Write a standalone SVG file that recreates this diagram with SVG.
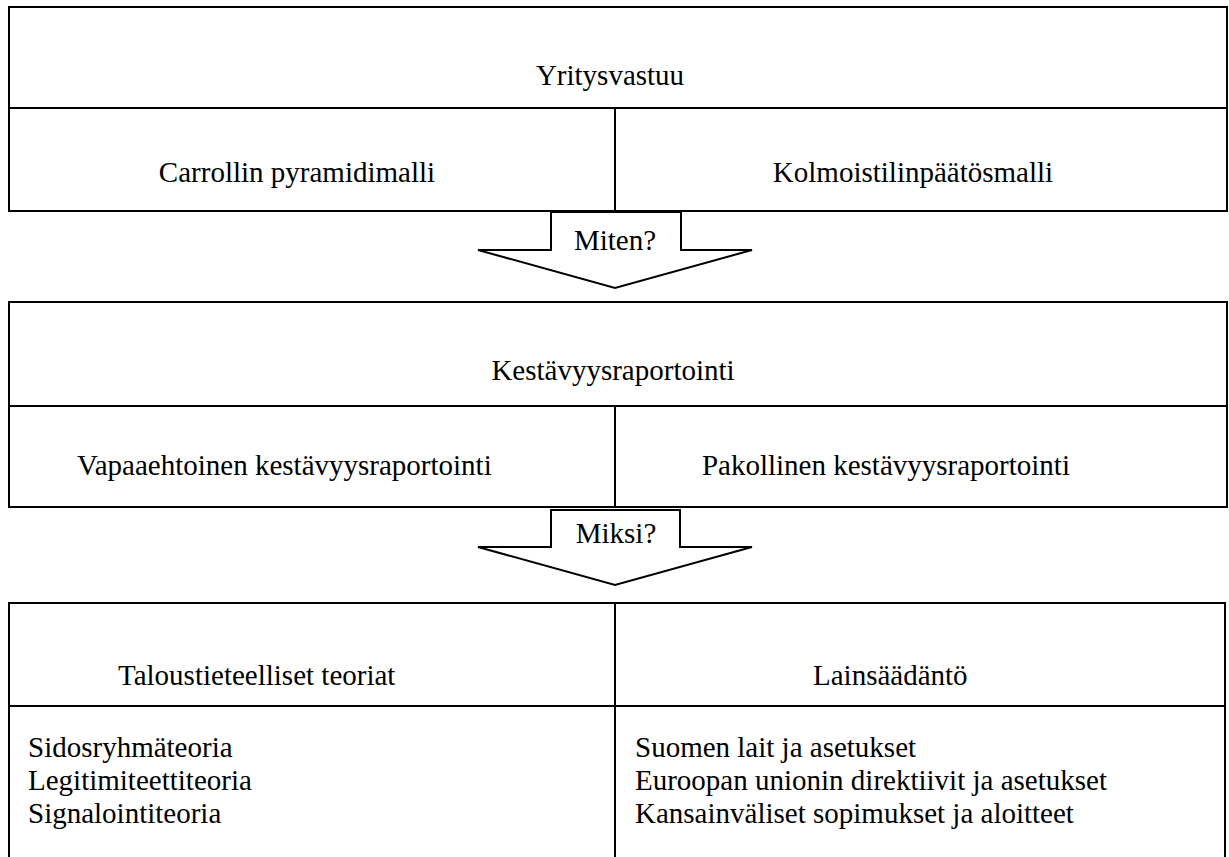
<svg xmlns="http://www.w3.org/2000/svg" width="1229" height="857" viewBox="0 0 1229 857">
<style>
  .box { fill: #fff; stroke: #000; stroke-width: 2; }
  .ln { fill: none; stroke: #000; stroke-width: 2; }
  .arr { fill: #fff; stroke: #000; stroke-width: 2; stroke-linejoin: miter; }
  text { font-family: "Liberation Serif", "Times New Roman", serif; font-size: 29px; fill: #000; }
  .c { text-anchor: middle; }
  .e { text-anchor: end; }
</style>
<rect width="1229" height="857" fill="#fff"/>

<g id="yritysvastuu">
  <rect class="box" x="9" y="7" width="1218" height="204"/>
  <line class="ln" x1="9" y1="108" x2="1227" y2="108"/>
  <line class="ln" x1="615" y1="108" x2="615" y2="211"/>
  <text class="c" x="610" y="85">Yritysvastuu</text>
  <text class="c" x="297" y="182">Carrollin pyramidimalli</text>
  <text class="c" x="913" y="182">Kolmoistilinpäätösmalli</text>
</g>

<g id="kestavyysraportointi">
  <rect class="box" x="9" y="302" width="1218" height="205"/>
  <line class="ln" x1="9" y1="406" x2="1227" y2="406"/>
  <line class="ln" x1="615" y1="406" x2="615" y2="507"/>
  <text class="c" x="613" y="380">Kestävyysraportointi</text>
  <text x="77" y="475">Vapaaehtoinen kestävyysraportointi</text>
  <text class="e" x="1070" y="475">Pakollinen kestävyysraportointi</text>
</g>

<g id="perusteet">
  <path class="ln" d="M9,857 V603 H1225 V857"/>
  <line class="ln" x1="9" y1="706" x2="1225" y2="706"/>
  <line class="ln" x1="615" y1="603" x2="615" y2="857"/>
  <text x="118" y="685">Taloustieteelliset teoriat</text>
  <text x="813" y="685">Lainsäädäntö</text>
  <text x="28" y="757">Sidosryhmäteoria</text>
  <text x="28" y="790">Legitimiteettiteoria</text>
  <text x="28" y="823">Signalointiteoria</text>
  <text x="635" y="757">Suomen lait ja asetukset</text>
  <text x="635" y="790">Euroopan unionin direktiivit ja asetukset</text>
  <text x="635" y="823">Kansainväliset sopimukset ja aloitteet</text>
</g>

<g id="connectors">
  <g id="arrow-miten">
    <path class="arr" d="M551,212 H681 V250 H752 L615,288 L478,250 H551 Z"/>
    <text class="c" x="615" y="250">Miten?</text>
  </g>
  <g id="arrow-miksi">
    <path class="arr" d="M551,510 H680 V547 H752 L615,585 L478,547 H551 Z"/>
    <text class="c" x="616" y="543">Miksi?</text>
  </g>
</g>
</svg>
